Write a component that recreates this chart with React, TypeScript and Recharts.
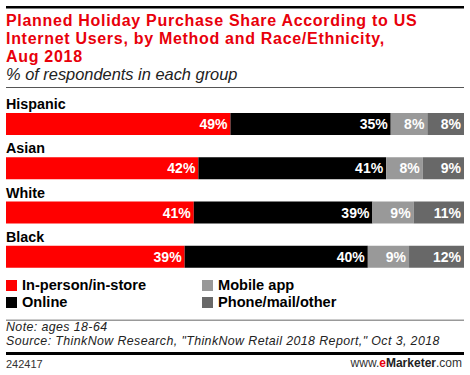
import React from "react";
import { Bar, BarChart, LabelList, XAxis, YAxis } from "recharts";

const groups = ["Hispanic", "Asian", "White", "Black"];
const inPerson = [49, 42, 41, 39];
const online = [35, 41, 39, 40];
const mobileApp = [8, 8, 9, 9];
const phoneMailOther = [8, 9, 11, 12];

const series = [
  { key: "inPerson", name: "In-person/in-store", color: "#ff0000", values: inPerson },
  { key: "online", name: "Online", color: "#000000", values: online },
  { key: "mobileApp", name: "Mobile app", color: "#999999", values: mobileApp },
  { key: "phone", name: "Phone/mail/other", color: "#686868", values: phoneMailOther },
];

const titleLines = [
  "Planned Holiday Purchase Share According to US",
  "Internet Users, by Method and Race/Ethnicity,",
  "Aug 2018",
];
const footLines = [
  "Note: ages 18-64",
  'Source: ThinkNow Research, "ThinkNow Retail 2018 Report," Oct 3, 2018',
];

const data = groups.map((name, i) => {
  const row: Record<string, string | number> = { name };
  series.forEach((s) => {
    row[s.key] = s.values[i];
  });
  return row;
});

const FONT = "'Liberation Sans', Arial, sans-serif";

const ValueLabel = (props: any) => {
  const { x, y, width, height, value } = props;
  return (
    <text
      x={x + width - 3}
      y={y + height / 2 + 5}
      textAnchor="end"
      fill="#ffffff"
      fontSize={14}
      fontWeight="bold"
      fontFamily={FONT}
    >
      {value}%
    </text>
  );
};

const GroupLabel = (props: any) => {
  const { y, value } = props;
  return (
    <text x={6} y={y - 4} fill="#000" fontSize={14.3} fontWeight="bold" fontFamily={FONT}>
      {value}
    </text>
  );
};

export default function App() {
  const legendPos = [
    { x: 6, y: 280 },
    { x: 6, y: 297 },
    { x: 202, y: 280 },
    { x: 202, y: 297 },
  ];
  return (
    <div
      style={{
        position: "absolute",
        left: 0,
        top: 0,
        width: 470,
        height: 375,
        background: "#fff",
        fontFamily: FONT,
      }}
    >
      <svg width={470} height={375} style={{ position: "absolute", left: 0, top: 0 }}>
        <rect x={6} y={6} width={458} height={2.5} fill="#000" />
        {titleLines.map((t, i) => (
          <text
            key={i}
            x={6}
            y={25.5 + i * 18}
            fill="#e8000b"
            fontSize={16}
            letterSpacing={0.7}
            fontWeight="bold"
            fontFamily={FONT}
          >
            {t}
          </text>
        ))}
        <text x={6} y={80} fill="#222" fontSize={16.4} fontStyle="italic" fontFamily={FONT}>
          % of respondents in each group
        </text>
        <rect x={6} y={87} width={458} height={1} fill="#555" />

        {series.map((s, i) => (
          <g key={s.key}>
            <rect x={legendPos[i].x} y={legendPos[i].y} width={11} height={11} fill={s.color} />
            <text
              x={legendPos[i].x + 16}
              y={legendPos[i].y + 10}
              fontSize={14.6}
              fontWeight="bold"
              fill="#000"
              fontFamily={FONT}
            >
              {s.name}
            </text>
          </g>
        ))}

        <rect x={6} y={319.5} width={458} height={1.5} fill="#999" />
        {footLines.map((t, i) => (
          <text
            key={i}
            x={6}
            y={331 + i * 14}
            fill="#222"
            fontSize={12.4}
            letterSpacing={0.4}
            fontStyle="italic"
            fontFamily={FONT}
          >
            {t}
          </text>
        ))}
        <rect x={6} y={352} width={458} height={3} fill="#000" />
        <text x={6} y={368} fill="#333" fontSize={11} fontFamily={FONT}>
          242417
        </text>
        <text x={462} y={367} textAnchor="end" fill="#333" fontSize={12} fontFamily={FONT}>
          www.
          <tspan fill="#e8000b" fontWeight="bold">e</tspan>
          <tspan fontWeight="bold" fill="#222">Marketer</tspan>
          .com
        </text>
      </svg>

      <div style={{ position: "absolute", left: 0, top: 80 }}>
        <BarChart
          width={470}
          height={200}
          data={data}
          layout="vertical"
          margin={{ top: 22, right: 6, bottom: 1, left: 6 }}
          barSize={22}
        >
          <XAxis type="number" domain={[0, 100]} hide />
          <YAxis type="category" dataKey="name" hide />
          {series.map((s, i) => (
            <Bar key={s.key} dataKey={s.key} stackId="a" fill={s.color} isAnimationActive={false}>
              {i === 0 && <LabelList dataKey="name" content={GroupLabel} />}
              <LabelList dataKey={s.key} content={ValueLabel} />
            </Bar>
          ))}
        </BarChart>
      </div>
    </div>
  );
}
